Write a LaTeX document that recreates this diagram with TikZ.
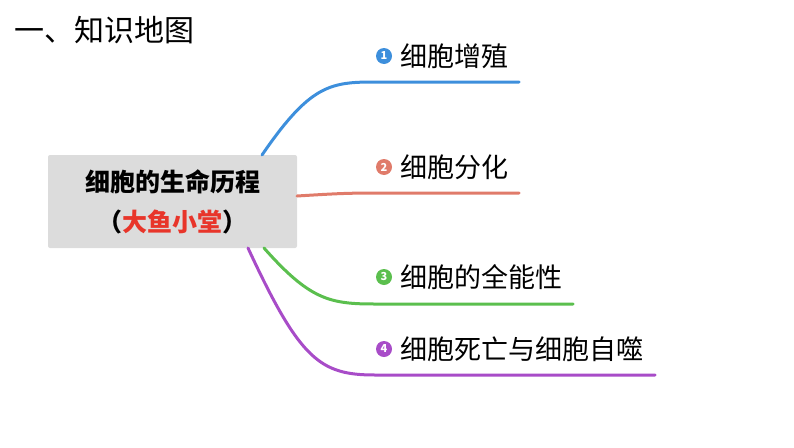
\documentclass[tikz,border=0pt]{standalone}
\usepackage{fontspec}
\setmainfont{Noto Sans CJK SC}
\definecolor{bra}{HTML}{3D8FDC}
\definecolor{brb}{HTML}{E07B6A}
\definecolor{brc}{HTML}{5BBF4E}
\definecolor{brd}{HTML}{A84CC8}
\definecolor{boxgray}{HTML}{DCDCDC}
\definecolor{txtred}{HTML}{E8352A}
\tikzset{
  branch/.style={line width=3pt, line cap=round},
  numdot/.style={circle, inner sep=0pt, minimum size=16pt, text=white, font=\fontsize{11}{11}\selectfont\bfseries},
  leaf/.style={anchor=west, inner sep=0pt, font=\fontsize{27}{27}\selectfont}
}
\begin{document}
\begin{tikzpicture}[x=1pt, y=-1pt]
	\useasboundingbox (0,0) rectangle (794,447);

	\node[anchor=west, inner sep=0pt, font=\fontsize{30}{30}\selectfont] (title) at (14,30) {一、知识地图};

	\node[fill=boxgray, rounded corners=2pt, minimum width=249pt, minimum height=93pt, align=center,
	      font=\fontsize{25}{40}\selectfont\bfseries] (root) at (172.5,201.5)
	      {细胞的生命历程\\（{\color{txtred}大鱼小堂}）};

	% branches
	\coordinate (ea) at (519,82);
	\coordinate (eb) at (519,193);
	\coordinate (ec) at (573,304);
	\coordinate (ed) at (655,375);
	\draw[branch, bra] (262,155) .. controls (310,85) and (330,82) .. (375,82) -- (ea);
	\draw[branch, brb] (297,196) .. controls (330,194) and (345,193) .. (375,193) -- (eb);
	\draw[branch, brc] (264,248) .. controls (310,300) and (330,304) .. (375,304) -- (ec);
	\draw[branch, brd] (248,248) .. controls (300,360) and (320,375) .. (375,375) -- (ed);

	% labels
	\node[numdot, fill=bra] (na) at (384,56) {1};
	\node[leaf] (la) at (400,56) {细胞增殖};
	\node[numdot, fill=brb] (nb) at (384,167) {2};
	\node[leaf] (lb) at (400,167) {细胞分化};
	\node[numdot, fill=brc] (nc) at (384,277) {3};
	\node[leaf] (lc) at (400,277) {细胞的全能性};
	\node[numdot, fill=brd] (nd) at (384,349) {4};
	\node[leaf] (ld) at (400,349) {细胞死亡与细胞自噬};

\end{tikzpicture}
\end{document}
